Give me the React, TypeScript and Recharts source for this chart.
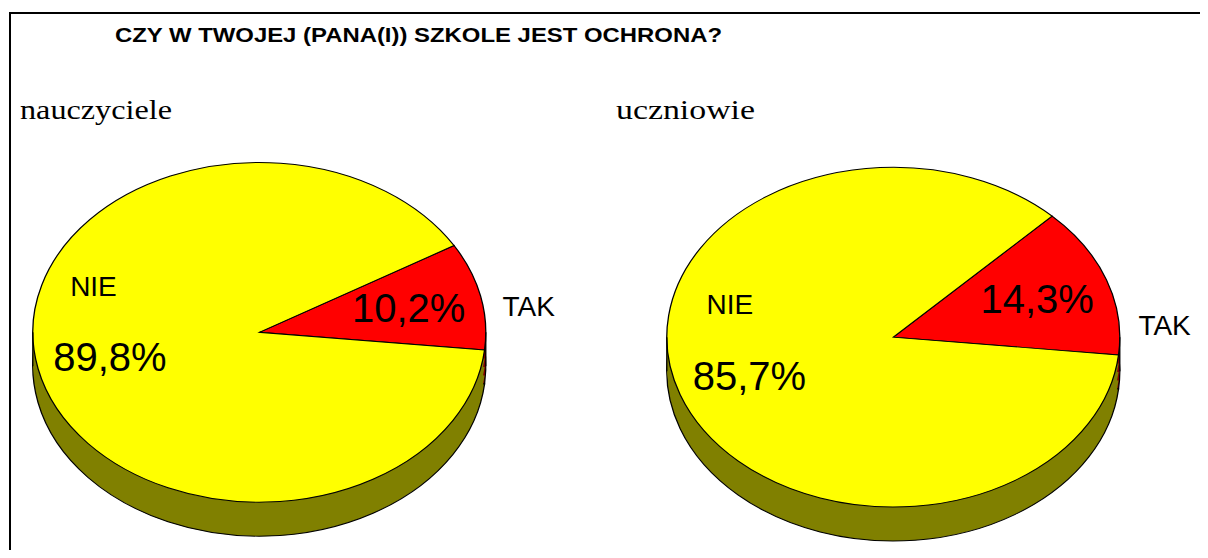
import React from 'react';
import { PieChart, Pie, Cell } from 'recharts';

// survey answers, in percent
const CATEGORIES = ['TAK', 'NIE'];
const TEACHERS = [10.2, 89.8];
const STUDENTS = [14.3, 85.7];
const GROUPS = ['nauczyciele', 'uczniowie'];
const TITLE = 'CZY W TWOJEJ (PANA(I)) SZKOLE JEST OCHRONA?';

const TOP_COLORS = ['#FF0000', '#FFFF00'];
const SIDE_COLORS = ['#800000', '#808000'];

// the pies are drawn as circles and squashed vertically to look tilted
const W = 1200;
const H = 542;
const K = 0.75;
const RADIUS = 226.5;
const DEPTH_PX = 34;
const DEPTH = DEPTH_PX / K;
const SANS = '"Liberation Sans", Arial, sans-serif';
const SERIF = '"Liberation Serif", "Times New Roman", serif';

const toRows = (values: number[]) => CATEGORIES.map((name, i) => ({ name, value: values[i] }));

// category name position relative to the percentage label (screen px)
const PIES = [
    { key: 'left', cx: 251.3, cy: 324.3 / K, data: toRows(TEACHERS), names: { TAK: [120, -2], NIE: [-16.5, -71.2] } },
    { key: 'right', cx: 885.3, cy: 329.2 / K, data: toRows(STUDENTS), names: { TAK: [127.4, 26.2], NIE: [-19.6, -72.2] } },
];

const makeLabel = (names: Record<string, number[]>) => (props: any) => {
    const { cx, cy, midAngle, outerRadius, name, value } = props;
    const rad = (-midAngle * Math.PI) / 180;
    const r = outerRadius * 0.675;
    const px = cx + r * Math.cos(rad);
    const py = cy + r * Math.sin(rad);
    const [ox, oy] = names[name];
    const pct = `${Number(value).toFixed(1).replace('.', ',')}%`;
    return (
        <g>
            <text
                transform={`translate(${px},${py}) scale(1,${1 / K})`}
                y={14.3}
                textAnchor="middle"
                fontSize={40}
                fontFamily={SANS}
                fill="#000"
            >
                {pct}
            </text>
            <text
                transform={`translate(${px + ox},${py + oy / K}) scale(1,${1 / K})`}
                y={10}
                textAnchor="middle"
                fontSize={28}
                fontFamily={SANS}
                fill="#000"
            >
                {name}
            </text>
        </g>
    );
};

const SIDE_STEPS = [1, 0.75, 0.5, 0.25];

export default function App() {
    return (
        <div style={{ position: 'relative', width: W, height: H, overflow: 'hidden', background: '#fff' }}>
            <svg width={W} height={H} style={{ position: 'absolute', left: 0, top: 0 }}>
                <line x1={2} y1={5} x2={W} y2={5} stroke="#000" strokeWidth={2} />
                <line x1={2} y1={4} x2={2} y2={H} stroke="#000" strokeWidth={2} />
            </svg>
            <div style={{ position: 'absolute', left: 0, top: 0, transform: `scaleY(${K})`, transformOrigin: '0 0' }}>
                <PieChart width={W} height={H / K} margin={{ top: 0, right: 0, bottom: 0, left: 0 }}>
                    {PIES.map(p =>
                        SIDE_STEPS.map((s, i) => (
                            <Pie
                                key={`${p.key}-side-${i}`}
                                data={p.data}
                                dataKey="value"
                                nameKey="name"
                                cx={p.cx}
                                cy={p.cy + DEPTH * s}
                                outerRadius={RADIUS}
                                startAngle={-6}
                                endAngle={354}
                                stroke={i === 0 ? '#000' : 'none'}
                                strokeWidth={1.3}
                                label={false}
                                labelLine={false}
                                isAnimationActive={false}
                            >
                                {p.data.map((d, j) => <Cell key={d.name} fill={SIDE_COLORS[j]} />)}
                            </Pie>
                        ))
                    )}
                    {PIES.map(p => (
                        <Pie
                            key={`${p.key}-top`}
                            data={p.data}
                            dataKey="value"
                            nameKey="name"
                            cx={p.cx}
                            cy={p.cy}
                            outerRadius={RADIUS}
                            startAngle={-6}
                            endAngle={354}
                            stroke="#000"
                            strokeWidth={1.3}
                            label={makeLabel(p.names)}
                            labelLine={false}
                            isAnimationActive={false}
                        >
                            {p.data.map((d, j) => <Cell key={d.name} fill={TOP_COLORS[j]} />)}
                        </Pie>
                    ))}
                </PieChart>
            </div>
            <svg width={W} height={H} style={{ position: 'absolute', left: 0, top: 0, pointerEvents: 'none' }}>
                {/* vertical edges of the pie sides */}
                {PIES.map(p =>
                    [-1, 1].map(sgn => (
                        <line
                            key={`${p.key}-edge-${sgn}`}
                            x1={p.cx + sgn * RADIUS}
                            x2={p.cx + sgn * RADIUS}
                            y1={p.cy * K}
                            y2={p.cy * K + DEPTH_PX}
                            stroke="#000"
                            strokeWidth={1.3}
                        />
                    ))
                )}
                <text x={107} y={33.7} fontSize={21} fontWeight="bold" fontFamily={SANS} textLength={607} lengthAdjust="spacingAndGlyphs">
                    {TITLE}
                </text>
                <text x={12} y={111.3} fontSize={28} fontFamily={SERIF} textLength={152} lengthAdjust="spacingAndGlyphs">
                    {GROUPS[0]}
                </text>
                <text x={608} y={111.3} fontSize={28} fontFamily={SERIF} textLength={139} lengthAdjust="spacingAndGlyphs">
                    {GROUPS[1]}
                </text>
            </svg>
        </div>
    );
}
